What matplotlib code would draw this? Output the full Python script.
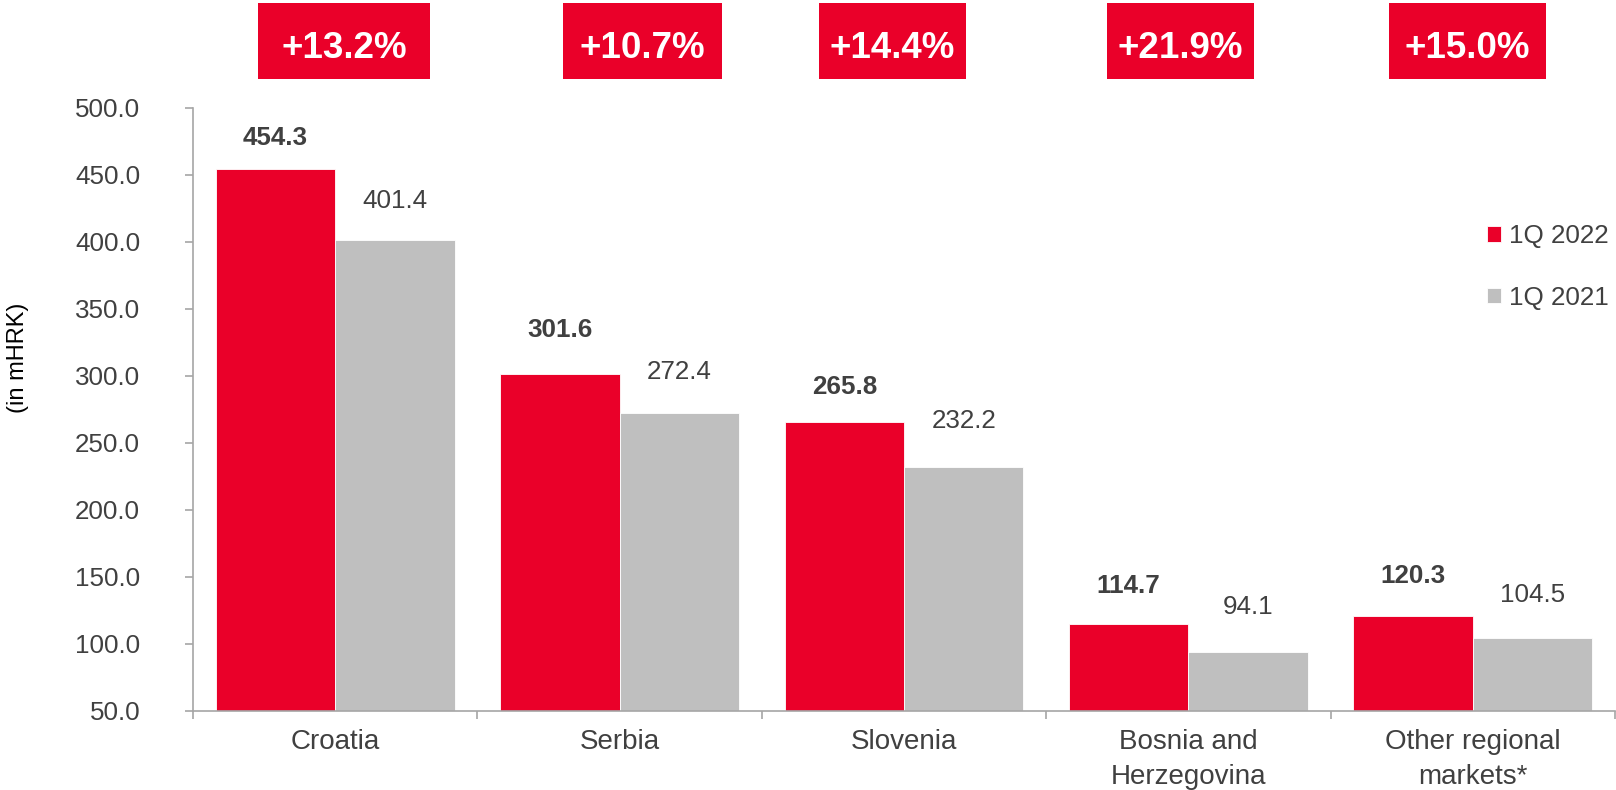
# -*- coding: utf-8 -*-
# Revenue by market, 1Q 2022 vs 1Q 2021
import numpy as np
import matplotlib.pyplot as plt
from matplotlib.patches import Rectangle
from matplotlib.transforms import blended_transform_factory

plt.rcParams['font.family'] = ['Liberation Sans', 'DejaVu Sans']

# data
markets = ['Croatia', 'Serbia', 'Slovenia', 'Bosnia and\nHerzegovina', 'Other regional\nmarkets*']
q1_2022 = [454.3, 301.6, 265.8, 114.7, 120.3]
q1_2021 = [401.4, 272.4, 232.2, 94.1, 104.5]
growth = ['+13.2%', '+10.7%', '+14.4%', '+21.9%', '+15.0%']
yticks = [50, 100, 150, 200, 250, 300, 350, 400, 450, 500]

# colours
red = '#EA0029'
grey = '#BFBFBF'
txt = '#404040'
axcol = '#A6A6A6'

# label gaps above bars (px) and growth box placement, tuned to look like the slide
gap22 = [31, 44, 35, 38, 40]
gap21 = [39, 41, 46, 45, 43]
box_dx = [0.031, 0.08, -0.04, -0.028, -0.019]
box_w = [0.605, 0.559, 0.517, 0.517, 0.552]

fig = plt.figure(figsize=(16.16, 7.9), dpi=100)
ax = fig.add_axes([193/1616, 1 - 710.7/790, 1422/1616, 603/790])

x = np.arange(len(markets))
w = 0.42
b1 = ax.bar(x - w/2, np.array(q1_2022) - 50, w, bottom=50, color=red,
            edgecolor='white', linewidth=0.6, label='1Q 2022')
b2 = ax.bar(x + w/2, np.array(q1_2021) - 50, w, bottom=50, color=grey,
            edgecolor='white', linewidth=0.6, label='1Q 2021')

ax.set_xlim(-0.5, len(markets) - 0.5)
ax.set_ylim(50, 500)

# value labels
for i in range(len(markets)):
    ax.annotate('%.1f' % q1_2022[i], (x[i] - w/2, q1_2022[i]), xytext=(0, gap22[i]*0.72),
                textcoords='offset points', ha='center', va='center',
                fontsize=18.7, fontweight='bold', color=txt)
    ax.annotate('%.1f' % q1_2021[i], (x[i] + w/2, q1_2021[i]), xytext=(0, gap21[i]*0.72),
                textcoords='offset points', ha='center', va='center',
                fontsize=18.7, color=txt)

# axes styling
for s in ['top', 'right']:
    ax.spines[s].set_visible(False)
for s in ['left', 'bottom']:
    ax.spines[s].set_color(axcol)
    ax.spines[s].set_linewidth(1.2)

ax.set_yticks(yticks)
ax.set_yticklabels(['%.1f' % v for v in yticks])
ax.tick_params(axis='y', length=6, width=1.2, color=axcol, labelsize=18.7,
               labelcolor=txt, pad=32)

ax.set_xticks(x)
ax.set_xticklabels(markets, fontsize=20, color=txt, linespacing=1.45)
ax.tick_params(axis='x', length=0, pad=13)
ax.set_xticks(np.arange(len(markets) + 1) - 0.5, minor=True)
ax.tick_params(axis='x', which='minor', length=6, width=1.2, color=axcol)

fig.text(18/1616, 1 - 358/790, '(in mHRK)', rotation=90, ha='center', va='center',
         fontsize=17, color='black')

# growth boxes above the groups
tr = blended_transform_factory(ax.transData, fig.transFigure)
for i in range(len(markets)):
    cx = x[i] + box_dx[i]
    r = Rectangle((cx - box_w[i]/2, 1 - 79/790), box_w[i], 76/790, transform=tr,
                  facecolor=red, edgecolor='none', clip_on=False)
    fig.add_artist(r)
    fig.text(0, 0, growth[i], transform=tr, fontsize=26.5, fontweight='bold', color='white',
             ha='center', va='center_baseline').set_position((cx, 1 - 45/790))

leg = ax.legend(loc='upper left', bbox_to_anchor=(1487/1616, 1 - 224/790),
                bbox_transform=fig.transFigure, frameon=False, fontsize=18.7,
                handlelength=0.55, handleheight=0.55, handletextpad=0.3,
                labelspacing=1.45, borderpad=0, borderaxespad=0)
for t in leg.get_texts():
    t.set_color(txt)

fig.savefig('out.png', dpi=100)
